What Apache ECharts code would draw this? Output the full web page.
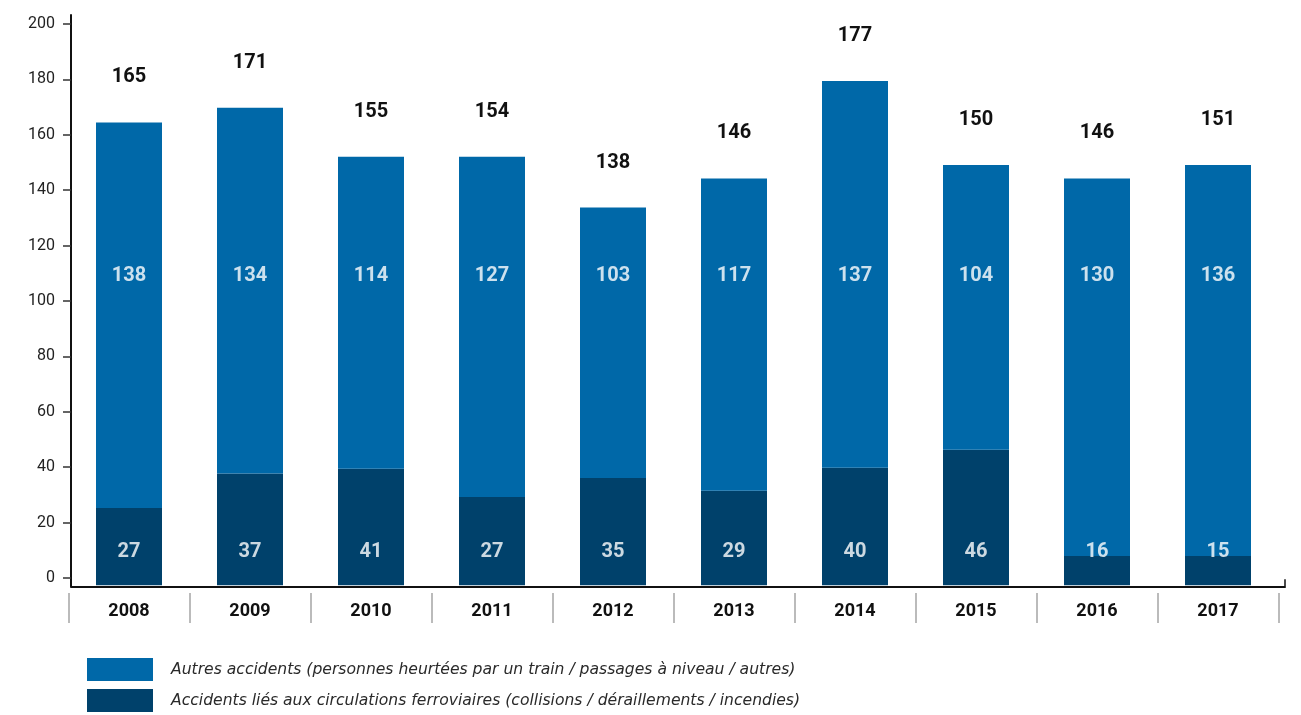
<!DOCTYPE html>
<html>
<head>
<meta charset="utf-8">
<script src="https://cdn.jsdelivr.net/npm/echarts@6/dist/echarts.min.js"></script>
<style>
html,body{margin:0;padding:0;background:#fff;}
#chart{width:1301px;height:715px;}
</style>
</head>
<body>
<div id="chart"></div>
<script>
// ---- data ----
const categories = ['2008','2009','2010','2011','2012','2013','2014','2015','2016','2017'];
// printed values
const darkLabels  = [27, 37, 41, 27, 35, 29, 40, 46, 16, 15];
const lightLabels = [138, 134, 114, 127, 103, 117, 137, 104, 130, 136];
const totalLabels = [165, 171, 155, 154, 138, 146, 177, 150, 146, 151];
// drawn bar heights (as measured against the axis)
const darkBars  = [25.3, 37.7, 39.4, 29.2, 36.1, 31.5, 39.8, 46.3, 7.9, 7.9];
const totalBars = [164.4, 169.7, 152.0, 152.0, 133.7, 144.2, 179.4, 149.1, 144.2, 149.1];
const yTicks = [0, 20, 40, 60, 80, 100, 120, 140, 160, 180, 200];
const seriesNames = [
  'Autres accidents (personnes heurtées par un train / passages à niveau / autres)',
  'Accidents liés aux circulations ferroviaires (collisions / déraillements / incendies)'
];

// ---- styling / layout ----
const LIGHT = '#0068A8';
const DARK = '#00416B';
const FONT = 'Roboto';
const Y_MIN = -3, Y_MAX = 203.2;
const BAR_BASE = -2.6;
const DARK_LABEL_AT = 9.4;
const LIGHT_LABEL_AT = 108.9;

const lightBars = totalBars.map((t, i) => +(t - darkBars[i]).toFixed(1));

const chart = echarts.init(document.getElementById('chart'), null, {renderer: 'canvas'});

const gridTop = 15, gridBottom = 715 - 586.3;

const option = {
  backgroundColor: '#fff',
  animation: false,
  textStyle: {fontFamily: FONT},
  grid: [
    {left: 68.5, width: 1210, top: gridTop, bottom: gridBottom, containLabel: false},
    {left: 71, width: 1214, top: gridTop, bottom: gridBottom, containLabel: false}
  ],
  legend: {
    data: seriesNames,
    orient: 'vertical',
    left: 87,
    top: 658,
    padding: 0,
    itemWidth: 66,
    itemHeight: 23,
    itemGap: 8,
    icon: 'rect',
    selectedMode: false,
    textStyle: {
      fontFamily: 'DejaVu Sans',
      fontStyle: 'italic',
      fontSize: 15.6,
      color: '#2a2a2a',
      padding: [0, 0, 0, 13]
    }
  },
  xAxis: [
    {
      gridIndex: 0, type: 'category', data: categories,
      axisLine: {show: false}, axisTick: {show: false}, axisLabel: {show: false},
      splitLine: {show: false}
    },
    {
      gridIndex: 0, type: 'category', data: categories, position: 'bottom', offset: 6.7,
      axisLine: {show: false},
      axisTick: {show: true, length: 30, lineStyle: {color: '#bbbbbb', width: 2}},
      axisLabel: {show: true, margin: 9, fontFamily: FONT, fontWeight: 'bold', fontSize: 18, color: '#111'},
      splitLine: {show: false}
    },
    {
      gridIndex: 1, type: 'value', min: 0, max: 1, interval: 1,
      axisLine: {show: true, lineStyle: {color: '#111', width: 2}},
      axisTick: {show: true, inside: true, length: 7, lineStyle: {color: '#111', width: 1.5}},
      axisLabel: {show: false},
      splitLine: {show: false}
    }
  ],
  yAxis: [
    {
      gridIndex: 0, type: 'value', min: Y_MIN, max: Y_MAX, offset: -2.5,
      axisLine: {show: true, lineStyle: {color: '#111', width: 2}},
      axisTick: {show: true, length: 8, customValues: yTicks, lineStyle: {color: '#333', width: 1.5}},
      axisLabel: {show: true, customValues: yTicks, margin: 16, fontFamily: FONT, fontSize: 16, color: '#222'},
      splitLine: {show: false}
    },
    {
      gridIndex: 1, type: 'value', min: 0, max: 1, show: false
    }
  ],
  series: [
    {
      name: 'base', type: 'bar', stack: 'acc', xAxisIndex: 0, yAxisIndex: 0,
      barWidth: 66, silent: true,
      itemStyle: {color: DARK},
      data: categories.map(() => BAR_BASE)
    },
    {
      name: seriesNames[1], type: 'bar', stack: 'acc', xAxisIndex: 0, yAxisIndex: 0,
      barWidth: 66,
      itemStyle: {color: DARK},
      data: darkBars
    },
    {
      name: seriesNames[0], type: 'bar', stack: 'acc', xAxisIndex: 0, yAxisIndex: 0,
      barWidth: 66,
      itemStyle: {color: LIGHT},
      label: {
        show: true, position: 'top', distance: 35,
        formatter: p => String(totalLabels[p.dataIndex]),
        fontFamily: FONT, fontWeight: 'bold', fontSize: 20, color: '#111'
      },
      data: lightBars
    },
    {
      name: 'darkText', type: 'scatter', xAxisIndex: 0, yAxisIndex: 0, z: 10,
      symbolSize: 1, itemStyle: {color: 'rgba(0,0,0,0)'}, silent: true,
      label: {
        show: true, position: 'inside',
        formatter: p => String(darkLabels[p.dataIndex]),
        fontFamily: FONT, fontWeight: 'bold', fontSize: 20, color: '#fff'
      },
      data: categories.map((c, i) => [i, DARK_LABEL_AT])
    },
    {
      name: 'lightText', type: 'scatter', xAxisIndex: 0, yAxisIndex: 0, z: 10,
      symbolSize: 1, itemStyle: {color: 'rgba(0,0,0,0)'}, silent: true,
      label: {
        show: true, position: 'inside',
        formatter: p => String(lightLabels[p.dataIndex]),
        fontFamily: FONT, fontWeight: 'bold', fontSize: 20, color: '#fff'
      },
      data: categories.map((c, i) => [i, LIGHT_LABEL_AT])
    }
  ]
};
chart.setOption(option);
</script>
</body>
</html>
